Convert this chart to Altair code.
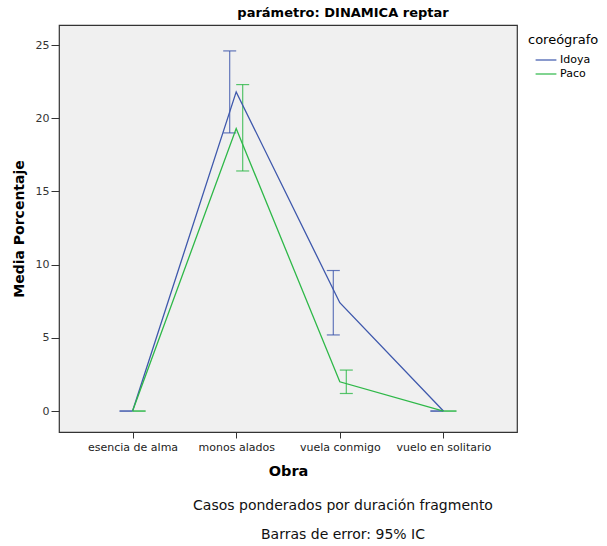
import altair as alt
import pandas as pd

obras = ["esencia de alma", "monos alados", "vuela conmigo", "vuelo en solitario"]
coreografos = ["Idoya", "Paco"]
idoya_media = [0.0, 21.8, 7.4, 0.0]
idoya_lo = [0.0, 19.0, 5.2, 0.0]
idoya_hi = [0.0, 24.6, 9.6, 0.0]
paco_media = [0.0, 19.3, 2.0, 0.0]
paco_lo = [0.0, 16.4, 1.2, 0.0]
paco_hi = [0.0, 22.3, 2.8, 0.0]
colores = ["#3E58AC", "#2EB848"]
y_ticks = [0, 5, 10, 15, 20, 25]
titulo = "parámetro: DINAMICA reptar"
pie1 = "Casos ponderados por duración fragmento"
pie2 = "Barras de error: 95% IC"

rows = []
for c, med, los, his in [("Idoya", idoya_media, idoya_lo, idoya_hi),
                         ("Paco", paco_media, paco_lo, paco_hi)]:
    for o, m, l, h in zip(obras, med, los, his):
        rows.append(dict(obra=o, coreografo=c, media=m, lo=l, hi=h))
df = pd.DataFrame(rows)

FONT = "DejaVu Sans"

x = alt.X("obra:N", sort=obras,
          scale=alt.Scale(type="point", padding=0.71),
          axis=alt.Axis(title="Obra", labelAngle=0, labelFontSize=11, labelColor="#222",
                        labelFont=FONT, tickSize=6, tickColor="#333", domain=False,
                        labelPadding=3, titleFontSize=14.5, titleFontWeight="bold",
                        titleFont=FONT, titleColor="#000", titleY=43,
                        titleBaseline="alphabetic"))
y_scale = alt.Scale(domain=[-1.43, 26.37], nice=False, zero=False)
y = alt.Y("media:Q", scale=y_scale,
          axis=alt.Axis(title="Media Porcentaje", values=y_ticks, grid=False, domain=False,
                        tickSize=8, tickColor="#333", labelFontSize=11, labelColor="#333",
                        labelFont=FONT, labelPadding=2, titleFontSize=14,
                        titleFontWeight="bold", titleFont=FONT, titleColor="#000",
                        titleX=-36, titleY=203.5, titleAlign="center",
                        titleBaseline="alphabetic"))
color_scale = alt.Scale(domain=coreografos, range=colores)
legend = alt.Legend(title="coreógrafo", orient="none", legendX=469, legendY=9,
                    titleFontSize=13, titleFontWeight="normal", titleFont=FONT,
                    titleColor="#000", labelFont=FONT, labelFontSize=11, labelColor="#000",
                    symbolType="M-1.3,0L1.3,0", symbolSize=256, symbolStrokeWidth=1.5,
                    rowPadding=0, titlePadding=4, symbolOffset=9, labelOffset=5)
color = alt.Color("coreografo:N", scale=color_scale, legend=legend)

base = alt.Chart(df)

lines = base.mark_line(strokeWidth=1.3).encode(x=x, y=y, color=color)

err_layers = []
for c, off in [("Idoya", -6.5), ("Paco", 6.5)]:
    sub = base.transform_filter(alt.datum.coreografo == c)
    err_layers.append(sub.mark_rule(xOffset=off, strokeWidth=1.2, opacity=0.8).encode(
        x=x, y=alt.Y("lo:Q", scale=y_scale), y2="hi:Q", color=color))
    err_layers.append(sub.mark_tick(xOffset=off, size=13, thickness=1.2, opacity=0.8).encode(
        x=x, y=alt.Y("lo:Q", scale=y_scale), color=color))
    err_layers.append(sub.mark_tick(xOffset=off, size=13, thickness=1.2, opacity=0.8).encode(
        x=x, y=alt.Y("hi:Q", scale=y_scale), color=color))

foot = alt.Chart(pd.DataFrame({"t": [pie1, pie2], "k": [0, 1]}))
foot1 = foot.transform_filter(alt.datum.k == 0).mark_text(
    font=FONT, fontSize=14, color="#111", baseline="middle", align="center").encode(
    text="t:N", x=alt.value(284), y=alt.value(481))
foot2 = foot.transform_filter(alt.datum.k == 1).mark_text(
    font=FONT, fontSize=14, color="#111", baseline="middle", align="center").encode(
    text="t:N", x=alt.value(284), y=alt.value(510))

chart = alt.layer(*err_layers, lines, foot1, foot2).properties(
    width=458, height=407,
    title=alt.TitleParams(titulo, fontSize=13, fontWeight="bold", font=FONT, color="#000",
                          anchor="middle", dx=55, offset=5),
    autosize=alt.AutoSizeParams(type="none"),
    padding={"left": 59, "top": 25, "right": 90, "bottom": 114},
    background="white",
).configure_view(fill="#F0F0F0", stroke="#333", strokeWidth=1.2)

chart.save("out.html", embed_options={"renderer": "svg", "actions": False})
